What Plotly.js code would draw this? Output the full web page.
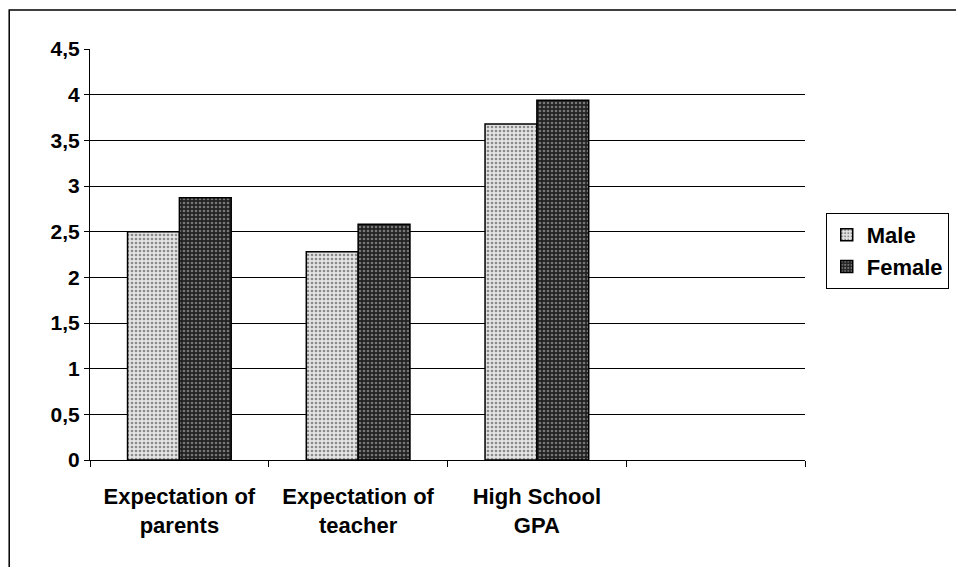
<!DOCTYPE html>
<html>
<head>
<meta charset="utf-8">
<script src="https://cdn.plot.ly/plotly-3.0.1.min.js"></script>
<style>html,body{margin:0;padding:0;background:#fff;}#chart{width:956px;height:567px;}</style>
</head>
<body>
<div id="chart"></div>
<script>
const categories = ['Expectation of<br>parents', 'Expectation of<br>teacher', 'High School<br>GPA', ' '];
const maleValues = [2.5, 2.28, 3.68, null];
const femaleValues = [2.87, 2.58, 3.94, null];
const seriesNames = ['Male', 'Female'];
const yTicks = [0, 0.5, 1, 1.5, 2, 2.5, 3, 3.5, 4, 4.5];
const gridTicks = [0.5, 1, 1.5, 2, 2.5, 3, 3.5, 4];

const font = 'Arial, "Liberation Sans", sans-serif';

const traces = [
  {
    type: 'bar', name: seriesNames[0], x: categories, y: maleValues,
    marker: {color: '#dcdcdc', line: {color: '#000', width: 1.5},
      pattern: {shape: '.', bgcolor: '#e4e4e4', fgcolor: '#8a8a8a', size: 4, solidity: 0.35}}
  },
  {
    type: 'bar', name: seriesNames[1], x: categories, y: femaleValues,
    marker: {color: '#333', line: {color: '#000', width: 1.5},
      pattern: {shape: '.', bgcolor: '#222', fgcolor: '#777', size: 4, solidity: 0.35}}
  },
  {
    type: 'scatter', x: categories, y: [null, null, null, null], yaxis: 'y2',
    showlegend: false, hoverinfo: 'skip'
  }
];

const layout = {
  width: 956, height: 567,
  margin: {l: 90, r: 151, t: 49, b: 107, autoexpand: false},
  paper_bgcolor: '#fff', plot_bgcolor: '#fff',
  separators: ', ',
  font: {family: font, color: '#000', size: 22, weight: 700},
  barmode: 'group', bargap: 0.42, bargroupgap: 0,
  showlegend: true,
  legend: {
    x: 1.029, y: 0.601, xanchor: 'left', yanchor: 'top',
    bordercolor: '#000', borderwidth: 1, bgcolor: '#fff',
    font: {family: font, size: 22, color: '#000', weight: 700},
    itemwidth: 30, tracegroupgap: 0
  },
  xaxis: {
    type: 'category', categoryorder: 'array', categoryarray: categories,
    range: [-0.5, 3.5], tickson: 'boundaries',
    ticks: 'outside', ticklen: 6, tickcolor: '#000', tickwidth: 1,
    ticklabelstandoff: 17, automargin: false,
    showline: true, linecolor: '#000', linewidth: 1,
    showgrid: false, zeroline: false,
    tickfont: {family: font, size: 22, color: '#000', weight: 700}
  },
  yaxis: {
    range: [0, 4.5], tickvals: yTicks, automargin: false,
    ticks: 'outside', ticklen: 5, tickcolor: '#000', tickwidth: 1,
    showline: true, linecolor: '#000', linewidth: 1,
    showgrid: false, zeroline: false,
    tickfont: {family: font, size: 21, color: '#000', weight: 700}
  },
  yaxis2: {
    overlaying: 'y', range: [0, 4.5], tickvals: gridTicks,
    showticklabels: false, ticks: '', showline: false, zeroline: false,
    showgrid: true, gridcolor: '#000', gridwidth: 1
  },
  shapes: [{
    type: 'rect', xref: 'paper', yref: 'paper',
    x0: -0.113, x1: 1.5, y0: -0.5, y1: 1.095,
    line: {color: '#000', width: 1.5}, fillcolor: 'rgba(0,0,0,0)', layer: 'below'
  }]
};

Plotly.newPlot('chart', traces, layout, {displayModeBar: false, staticPlot: true});
</script>
</body>
</html>
